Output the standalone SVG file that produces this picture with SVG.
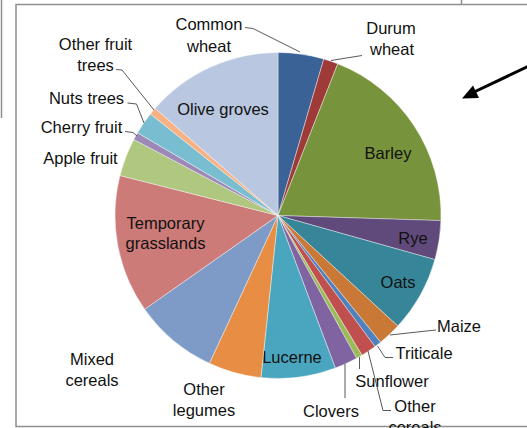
<svg xmlns="http://www.w3.org/2000/svg" width="527" height="428" viewBox="0 0 527 428">
<style>
  text { font-family: "Liberation Sans", Arial, sans-serif; font-size: 16.5px; fill: #111; text-anchor: middle; }
  .frame { stroke: #8f8f8f; stroke-width: 1.5; fill: none; }
  .leader { stroke: #595959; stroke-width: 1; fill: none; }
  .slice { stroke: #ffffff; stroke-width: 0.4; }
</style>
<defs>
  <marker id="ah" markerWidth="6" markerHeight="6" refX="5" refY="3" orient="auto" markerUnits="strokeWidth">
    <path d="M0,0 L6,3 L0,6 Z" fill="#000"/>
  </marker>
</defs>
<rect width="527" height="428" fill="#fff"/>
<g id="frame">
  <line class="frame" x1="1.5" y1="0" x2="1.5" y2="118"/>
  <line class="frame" x1="461.5" y1="0" x2="461.5" y2="4.5"/>
  <polyline class="frame" points="528,4.5 16,4.5 16,426.5 528,426.5"/>
</g>
<g id="pie">
  <g id="common-wheat"><path class="slice" fill="#3B6296" d="M278,215.5 L278,52.5 A163,163 0 0,1 323.75,59.05 Z"/><text x="209" y="30">Common</text><text x="209" y="52">wheat</text></g>
  <g id="durum-wheat"><path class="slice" fill="#9E3B39" d="M278,215.5 L323.75,59.05 A163,163 0 0,1 337.74,63.85 Z"/><text x="391" y="33.5">Durum</text><text x="392" y="55">wheat</text></g>
  <g id="barley"><path class="slice" fill="#77933C" d="M278,215.5 L337.74,63.85 A163,163 0 0,1 440.92,220.62 Z"/><text x="388" y="159">Barley</text></g>
  <g id="rye"><path class="slice" fill="#604A7B" d="M278,215.5 L440.92,220.62 A163,163 0 0,1 434.92,259.61 Z"/><text x="413" y="244">Rye</text></g>
  <g id="oats"><path class="slice" fill="#368598" d="M278,215.5 L434.92,259.61 A163,163 0 0,1 397.79,326.05 Z"/><text x="398" y="288">Oats</text></g>
  <g id="maize"><path class="slice" fill="#C97835" d="M278,215.5 L397.79,326.05 A163,163 0 0,1 380.58,342.17 Z"/><text x="459" y="331.5">Maize</text></g>
  <g id="triticale"><path class="slice" fill="#4F81BD" d="M278,215.5 L380.58,342.17 A163,163 0 0,1 374.95,346.53 Z"/><text x="424" y="359">Triticale</text></g>
  <g id="other-cereals"><path class="slice" fill="#C0504D" d="M278,215.5 L374.95,346.53 A163,163 0 0,1 361.95,355.22 Z"/><text x="415" y="411.5">Other</text><text x="415" y="433">cereals</text></g>
  <g id="sunflower"><path class="slice" fill="#9BBB59" d="M278,215.5 L361.95,355.22 A163,163 0 0,1 356.53,358.33 Z"/><text x="392" y="387">Sunflower</text></g>
  <g id="clovers"><path class="slice" fill="#8064A2" d="M278,215.5 L356.53,358.33 A163,163 0 0,1 335.34,368.08 Z"/><text x="331" y="416.5">Clovers</text></g>
  <g id="lucerne"><path class="slice" fill="#4AA6BF" d="M278,215.5 L335.34,368.08 A163,163 0 0,1 260.96,377.61 Z"/><text x="292" y="363">Lucerne</text></g>
  <g id="other-legumes"><path class="slice" fill="#E88D44" d="M278,215.5 L260.96,377.61 A163,163 0 0,1 209.37,363.35 Z"/><text x="204" y="395">Other</text><text x="204" y="416">legumes</text></g>
  <g id="mixed-cereals"><path class="slice" fill="#7E9BC8" d="M278,215.5 L209.37,363.35 A163,163 0 0,1 144.65,309.23 Z"/><text x="92" y="365">Mixed</text><text x="92" y="386">cereals</text></g>
  <g id="temporary-grasslands"><path class="slice" fill="#CD7B79" d="M278,215.5 L144.65,309.23 A163,163 0 0,1 119.99,175.52 Z"/><text x="165.5" y="228.5">Temporary</text><text x="165.5" y="248.5">grasslands</text></g>
  <g id="apple-fruit"><path class="slice" fill="#AFC77E" d="M278,215.5 L119.99,175.52 A163,163 0 0,1 133.81,139.48 Z"/><text x="80.5" y="163.5">Apple fruit</text></g>
  <g id="cherry-fruit"><path class="slice" fill="#9D89B8" d="M278,215.5 L133.81,139.48 A163,163 0 0,1 137.56,132.78 Z"/><text x="81.5" y="132.5">Cherry fruit</text></g>
  <g id="nuts-trees"><path class="slice" fill="#79BDD1" d="M278,215.5 L137.56,132.78 A163,163 0 0,1 150.44,114.03 Z"/><text x="86.5" y="104">Nuts trees</text></g>
  <g id="other-fruit-trees"><path class="slice" fill="#F8B183" d="M278,215.5 L150.44,114.03 A163,163 0 0,1 155.16,108.35 Z"/><text x="95.5" y="50">Other fruit</text><text x="95.5" y="70.5">trees</text></g>
  <g id="olive-groves"><path class="slice" fill="#B9C7E0" d="M278,215.5 L155.16,108.35 A163,163 0 0,1 278,52.5 Z"/><text x="223" y="115">Olive groves</text></g>
</g>
<g id="connectors">
  <polyline class="leader" points="245,27.5 253,28.5 300,52"/>
  <polyline class="leader" points="362,55.5 331,60.5"/>
  <polyline class="leader" points="116,69.5 122,70 154,110"/>
  <polyline class="leader" points="127.5,103 136.5,104 144,123"/>
  <polyline class="leader" points="125,131.5 133,132.5 137,136"/>
  <polyline class="leader" points="436,330 431,330.5 390,335"/>
  <polyline class="leader" points="393,357.5 385,357.5 377.5,346"/>
  <polyline class="leader" points="391,410.5 383,410.5 368,351"/>
  <polyline class="leader" points="359.5,369 359.5,357"/>
  <polyline class="leader" points="345,398 345,364"/>
  <line x1="530" y1="65.5" x2="472" y2="93" stroke="#000" stroke-width="3"/>
  <polygon points="462,98.5 479,98 473,85.5" fill="#000"/>
</g>
</svg>
